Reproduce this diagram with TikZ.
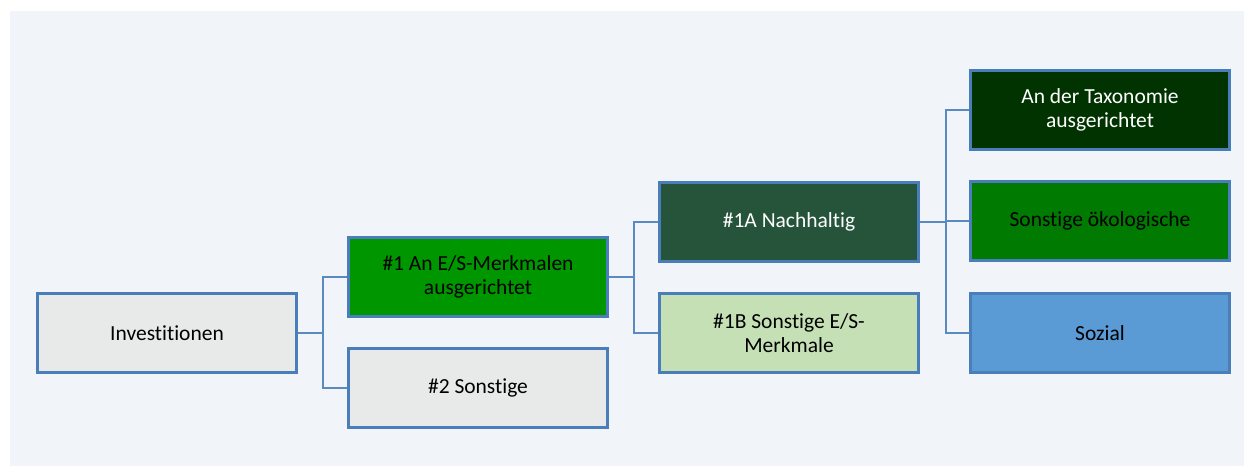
\documentclass[tikz,border=0pt]{standalone}
\usepackage{fontspec}
\setmainfont{Carlito}[Ligatures={NoCommon}]
\usepackage{tikz}
\definecolor{bgblue}{HTML}{F1F5FA}
\definecolor{edgeblue}{HTML}{4A7EBB}
\definecolor{lineblue}{HTML}{5A8AC2}
\definecolor{greyfill}{HTML}{E8EAEA}
\definecolor{esgreen}{HTML}{009600}
\definecolor{nachgreen}{HTML}{26543A}
\definecolor{lightgreen}{HTML}{C5E0B4}
\definecolor{taxgreen}{HTML}{003300}
\definecolor{oekogreen}{HTML}{007A00}
\definecolor{sozblue}{HTML}{5B9BD5}
\tikzset{
  catbox/.style  = {shape=rectangle, draw=edgeblue, line width=2.4pt,
                    align=center, minimum width=259pt, minimum height=79pt,
                    inner sep=0pt, font=\fontsize{21.5}{23.5}\selectfont},
  greybox/.style = {catbox, fill=greyfill},
  darkbox/.style = {catbox, text=white},
  link/.style    = {draw=lineblue, line width=2.2pt}
}
\begin{document}
\begin{tikzpicture}[x=1pt,y=-1pt]
  \useasboundingbox (0,0) rectangle (1244,466);
  \fill[bgblue] (10,11) rectangle (1244,466);

  \node[greybox] (invest) at (167,333) {Investitionen};
  \node[catbox, fill=esgreen] (es) at (478,277) {\#1 An E/S-Merkmalen\\ausgerichtet};
  \node[greybox] (sonst) at (478,388) {\#2 Sonstige};
  \node[darkbox, fill=nachgreen] (nachh) at (789,222) {\#1A Nachhaltig};
  \node[catbox, fill=lightgreen] (esb) at (789,333) {\#1B Sonstige E/S-\\Merkmale};
  \node[darkbox, fill=taxgreen] (taxo) at (1100,110) {An der Taxonomie\\ausgerichtet};
  \node[catbox, fill=oekogreen] (oeko) at (1100,221) {Sonstige ökologische};
  \node[catbox, fill=sozblue] (sozial) at (1100,333) {Sozial};

  \draw[link] (invest.east) -- ++(25,0) |- (es.west);
  \draw[link] (invest.east) -- ++(25,0) |- (sonst.west);
  \draw[link] (es.east) -- ++(25,0) |- (nachh.west);
  \draw[link] (es.east) -- ++(25,0) |- (esb.west);
  \draw[link] (nachh.east) -- ++(26,0) |- (taxo.west);
  \draw[link] (nachh.east) -- ++(26,0) |- (oeko.west);
  \draw[link] (nachh.east) -- ++(26,0) |- (sozial.west);
\end{tikzpicture}
\end{document}
